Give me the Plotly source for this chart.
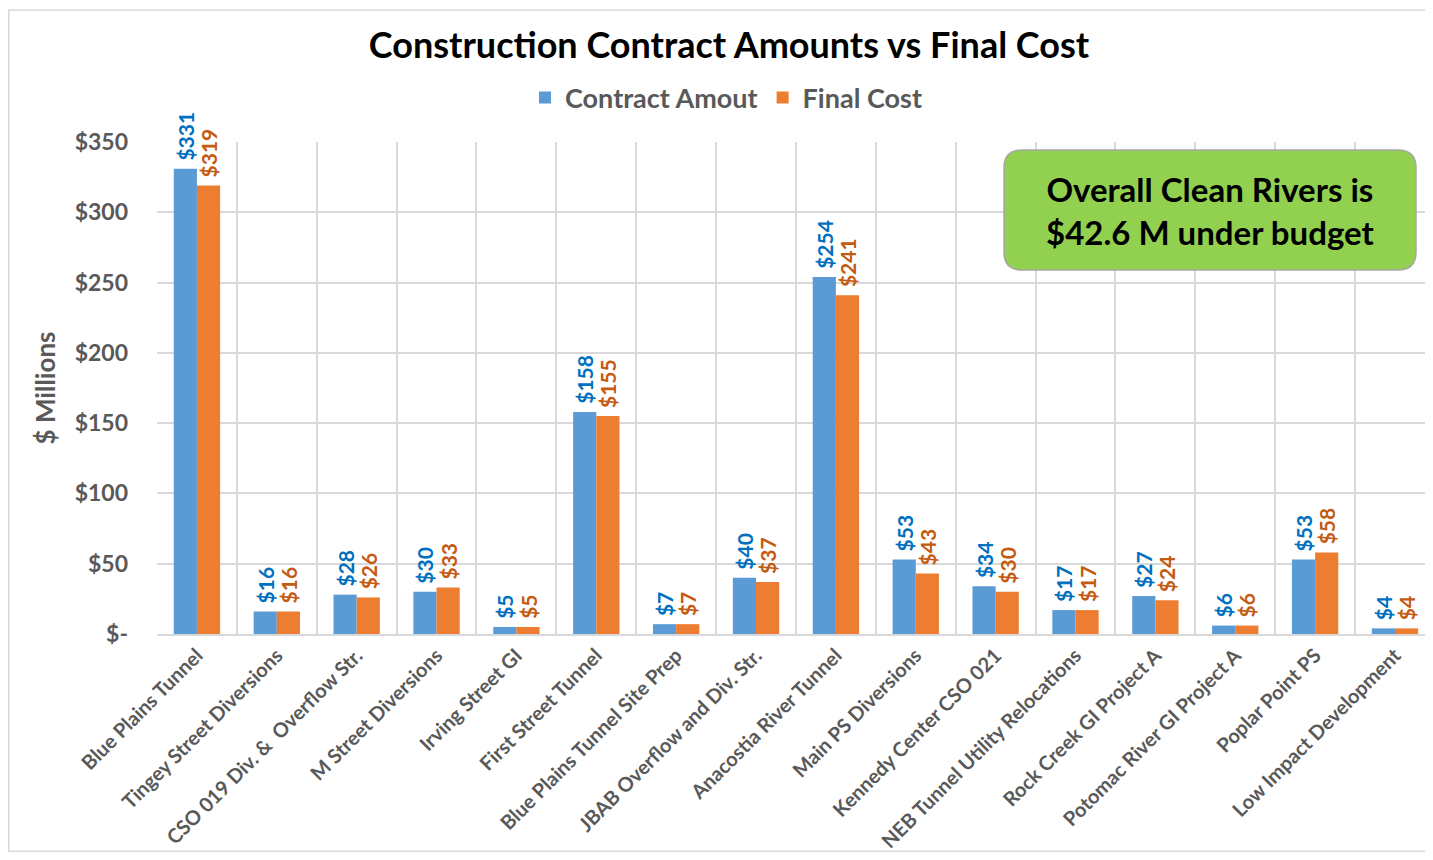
import plotly.graph_objects as go

categories = ["Blue Plains Tunnel", "Tingey Street Diversions", "CSO 019 Div. &  Overflow Str.",
              "M Street Diversions", "Irving Street GI", "First Street Tunnel",
              "Blue Plains Tunnel Site Prep", "JBAB Overflow and Div. Str.", "Anacostia River Tunnel",
              "Main PS Diversions", "Kennedy Center CSO 021", "NEB Tunnel Utility Relocations",
              "Rock Creek GI Project A", "Potomac River GI Project A", "Poplar Point PS",
              "Low Impact Development"]
contract_amount = [331, 16, 28, 30, 5, 158, 7, 40, 254, 53, 34, 17, 27, 6, 53, 4]
final_cost = [319, 16, 26, 33, 5, 155, 7, 37, 241, 43, 30, 17, 24, 6, 58, 4]
y_tickvals = [0, 50, 100, 150, 200, 250, 300, 350]
y_ticktext = ["$-", "$50", "$100", "$150", "$200", "$250", "$300", "$350"]

FONT = "Lato"
GRAY = "#595959"
xs = list(range(len(categories)))

# page has an 8px body margin; keep the figure inside the window
OFF = 8
W, H = 1433 - 2 * OFF, 860 - 2 * OFF
L, R, T = 157 - OFF, 0, 142 - OFF
B = H - (634 - OFF)
pw = W - L - R
ph = H - T - B
CAT_W = 79.87  # px per category in the reference
x_max = -0.5 + pw / CAT_W

def px_x(px):
    return (px - OFF - L) / pw

def px_y(py):
    return (H - B - (py - OFF)) / ph

NB = "\u00a0"
fig = go.Figure()
fig.add_trace(go.Bar(
    x=xs, y=contract_amount, name="Contract Amout",
    marker=dict(color="#5B9BD5", line=dict(width=0)),
    text=[f"{NB}${v}" for v in contract_amount], textposition="outside", textangle=-90,
    constraintext="none", cliponaxis=False,
    textfont=dict(family=FONT, size=21, color="#0070C0", weight="bold"),
))
fig.add_trace(go.Bar(
    x=xs, y=final_cost, name="Final Cost",
    marker=dict(color="#ED7D31", line=dict(width=0)),
    text=[f"{NB}${v}" for v in final_cost], textposition="outside", textangle=-90,
    constraintext="none", cliponaxis=False,
    textfont=dict(family=FONT, size=21, color="#C55A11", weight="bold"),
))

# outer chart border (left, top, bottom edges)
fig.add_shape(type="rect", xref="paper", yref="paper",
              x0=px_x(8.8), x1=px_x(1480), y0=px_y(851.2), y1=px_y(10),
              line=dict(color="#D9D9D9", width=1.5), fillcolor="rgba(0,0,0,0)", layer="below")

# rounded green box
bx0, bx1, by0, by1, r = 1004, 1416, 150, 270, 18
def P(x, y):
    return f"{px_x(x)},{px_y(y)}"
path = (f"M {P(bx0 + r, by0)} L {P(bx1 - r, by0)} Q {P(bx1, by0)} {P(bx1, by0 + r)} "
        f"L {P(bx1, by1 - r)} Q {P(bx1, by1)} {P(bx1 - r, by1)} "
        f"L {P(bx0 + r, by1)} Q {P(bx0, by1)} {P(bx0, by1 - r)} "
        f"L {P(bx0, by0 + r)} Q {P(bx0, by0)} {P(bx0 + r, by0)} Z")
fig.add_shape(type="path", xref="paper", yref="paper", path=path,
              fillcolor="#92D050", line=dict(color="#A6A6A6", width=1.5))
fig.add_annotation(xref="paper", yref="paper", x=px_x((bx0 + bx1) / 2), y=px_y((by0 + by1) / 2),
                   text="Overall Clean Rivers is<br>$42.6 M under budget", showarrow=False,
                   font=dict(family=FONT, size=33, color="black", weight="bold"),
                   xanchor="center", yanchor="middle")

fig.update_layout(
    width=W, height=H,
    margin=dict(l=L, r=R, t=T, b=B, autoexpand=False),
    paper_bgcolor="white", plot_bgcolor="white",
    barmode="group", bargap=0.42, bargroupgap=0,
    title=dict(text="Construction Contract Amounts vs Final Cost",
               x=px_x(729), xref="paper", xanchor="center",
               y=1 - (45 - OFF) / H, yanchor="middle",
               font=dict(family=FONT, size=36, color="black", weight="bold")),
    legend=dict(orientation="h", x=px_x(726), xanchor="center", y=px_y(98), yanchor="middle",
                font=dict(family=FONT, size=27, color=GRAY, weight="bold"),
                itemwidth=30, traceorder="normal"),
    showlegend=True,
)
fig.update_xaxes(
    range=[-0.5, x_max], automargin=False,
    tickmode="array", tickvals=xs, ticktext=categories, tickangle=-45,
    tickfont=dict(family=FONT, size=20, color=GRAY, weight="bold"),
    showgrid=False, zeroline=False,
    showline=True, linecolor="#D9D9D9", linewidth=2,
    ticks="",
    minor=dict(tick0=0.5, dtick=1, showgrid=True, gridcolor="#D9D9D9", gridwidth=1.5, ticks=""),
)
fig.update_yaxes(
    range=[0, 350], automargin=False, tickmode="array", tickvals=y_tickvals, ticktext=y_ticktext,
    tickfont=dict(family=FONT, size=23, color=GRAY, weight="bold"),
    showgrid=True, gridcolor="#D9D9D9", gridwidth=1.5, zeroline=False,
    ticklabelstandoff=28,
    title=dict(text="$ Millions", font=dict(family=FONT, size=26, color=GRAY, weight="bold"), standoff=11),
)
fig.write_html("out.html")
